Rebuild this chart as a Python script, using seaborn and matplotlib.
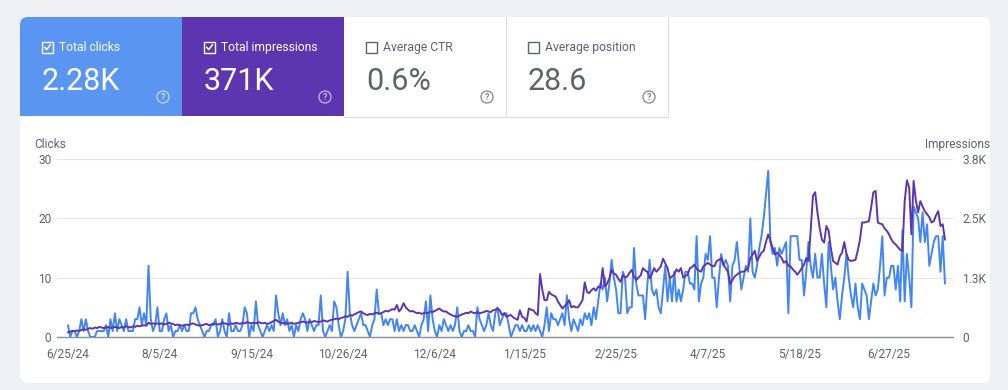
import numpy as np
import pandas as pd
import matplotlib
matplotlib.use("Agg")
import matplotlib.pyplot as plt
import seaborn as sns
from matplotlib.patches import FancyBboxPatch, Rectangle, Circle
from matplotlib.lines import Line2D

# ---------------- data ----------------
start_date = "2024-06-25"

clicks = [
    # 6/25/24 - 8/4/24
    2, 0, 1, 1, 0, 1, 3, 1, 3, 1, 0, 0, 0, 1, 1, 1, 1, 2, 0, 3,
    1, 4, 1, 3, 2, 1, 3, 1, 1, 1, 3, 3, 5, 2, 4, 2, 12, 3, 1, 2, 5,
    # 8/5/24 - 9/14/24
    1, 1, 3, 4, 1, 2, 0, 1, 1, 2, 1, 2, 1, 1, 4, 4, 5, 3, 2, 1,
    0, 1, 1, 2, 2, 3, 0, 1, 3, 1, 0, 4, 1, 1, 2, 1, 1, 2, 5, 4, 0,
    # 9/15/24 - 10/25/24
    2, 1, 6, 2, 1, 0, 1, 2, 1, 2, 1, 7, 4, 2, 4, 2, 3, 1, 2, 0,
    2, 1, 3, 4, 3, 1, 3, 2, 1, 2, 2, 7, 1, 0, 1, 2, 1, 6, 5, 2, 0,
    # 10/26/24 - 12/5/24
    1, 3, 11, 4, 2, 1, 2, 3, 4, 2, 2, 1, 0, 2, 3, 8, 4, 4, 2, 3,
    2, 3, 3, 1, 3, 1, 2, 1, 2, 2, 1, 1, 2, 1, 0, 2, 3, 6, 1, 7, 3,
    # 12/6/24 - 1/14/25
    1, 0, 2, 1, 3, 2, 1, 2, 1, 2, 5, 1, 0, 1, 1, 2, 1, 1, 0, 5,
    3, 2, 1, 2, 4, 2, 1, 4, 5, 2, 3, 4, 4, 2, 0, 1, 2, 2, 1, 2,
    # 1/15/25 - 2/24/25
    1, 1, 2, 1, 2, 1, 2, 1, 0, 2, 5, 1, 4, 3, 3, 2, 3, 4, 2, 7,
    3, 1, 3, 2, 1, 3, 2, 4, 3, 4, 2, 5, 3, 6, 9, 8, 10, 6, 9, 13, 10,
    # 2/25/25 - 4/6/25
    8, 4, 4, 11, 10, 4, 5, 5, 15, 9, 7, 7, 7, 3, 9, 13, 8, 7, 8, 5,
    4, 8, 12, 6, 10, 6, 11, 6, 8, 6, 8, 11, 11, 9, 9, 8, 17, 6, 9, 10, 14,
    # 4/7/25 - 5/17/25
    13, 17, 10, 10, 5, 10, 14, 12, 13, 12, 6, 12, 13, 16, 12, 8, 10, 12, 11, 20,
    11, 10, 12, 15, 17, 20, 24, 28, 16, 14, 15, 12, 15, 14, 15, 16, 4, 17, 17, 17, 17,
    # 5/18/25 - 6/26/25
    13, 13, 7, 11, 16, 12, 10, 14, 10, 10, 14, 9, 5, 16, 12, 8, 10, 6, 3, 7,
    10, 14, 10, 7, 5, 9, 5, 3, 9, 8, 7, 3, 6, 9, 7, 8, 12, 17, 7, 10,
    # 6/27/25 - 7/22/25
    10, 12, 12, 8, 12, 6, 18, 6, 14, 10, 5, 22, 21, 20, 16, 21, 16, 19, 12, 14,
    16, 17, 17, 11, 17, 9,
]

impressions = [
    # 6/25/24 - 8/4/24
    101, 114, 127, 127, 139, 127, 152, 165, 152, 177, 190, 177, 203, 190, 215, 203, 190, 203, 215, 190,
    203, 215, 203, 190, 215, 203, 228, 215, 203, 228, 215, 241, 228, 241, 253, 241, 304, 279, 291, 279, 291,
    # 8/5/24 - 9/14/24
    279, 291, 266, 279, 304, 291, 279, 253, 266, 253, 241, 253, 266, 253, 279, 291, 266, 253, 241, 253,
    266, 279, 253, 266, 291, 279, 266, 279, 304, 291, 279, 266, 291, 279, 304, 291, 279, 304, 291, 317, 304,
    # 9/15/24 - 10/25/24
    291, 304, 291, 317, 304, 291, 304, 279, 291, 317, 342, 367, 329, 304, 291, 304, 279, 291, 304, 279,
    291, 304, 317, 329, 317, 304, 329, 317, 342, 329, 317, 329, 355, 342, 329, 355, 367, 380, 393, 380, 405,
    # 10/26/24 - 12/5/24
    418, 443, 431, 469, 456, 481, 507, 532, 545, 507, 481, 469, 494, 481, 507, 519, 494, 507, 532, 557,
    545, 570, 595, 583, 684, 545, 608, 722, 633, 583, 545, 557, 532, 507, 519, 494, 507, 519, 507, 545, 532,
    # 12/6/24 - 1/14/25
    557, 583, 608, 570, 545, 545, 507, 481, 456, 443, 431, 456, 481, 494, 519, 507, 545, 519, 507, 532,
    507, 519, 532, 557, 545, 532, 570, 583, 608, 570, 469, 507, 431, 456, 469, 418, 393, 367, 570, 431,
    # 1/15/25 - 2/24/25
    405, 329, 608, 583, 570, 507, 469, 1343, 1013, 785, 785, 963, 912, 887, 861, 760, 684, 608, 659, 709,
    785, 633, 659, 633, 633, 709, 785, 1165, 963, 937, 1001, 1039, 988, 1077, 1051, 1469, 1077, 1140, 1254, 1431, 1355,
    # 2/25/25 - 4/6/25
    1330, 1242, 1178, 1318, 1267, 1292, 1368, 1432, 1292, 1216, 1267, 1318, 1470, 1419, 1394, 1254, 1343, 1470, 1394, 1444,
    1508, 1672, 1571, 1470, 1254, 1292, 1330, 1444, 1394, 1470, 1267, 1305, 1330, 1470, 1495, 1546, 1457, 1419, 1394, 1508, 1546,
    # 4/7/25 - 5/17/25
    1584, 1546, 1520, 1508, 1622, 1647, 1685, 1546, 1470, 1394, 1128, 1216, 1292, 1330, 1368, 1394, 1394, 1432, 1470, 1685,
    1761, 1837, 1622, 1710, 1799, 1837, 2027, 2192, 2052, 1900, 1761, 1799, 1748, 1685, 1584, 1622, 1520, 1508, 1444, 1394, 1330,
    # 5/18/25 - 6/26/25
    1394, 1470, 1546, 1685, 1622, 2280, 3015, 3091, 2660, 2331, 2078, 2014, 2369, 2268, 1900, 1622, 1584, 1546, 1723, 1799,
    2027, 1774, 1647, 1622, 1634, 1647, 1837, 2078, 2445, 2445, 2458, 2471, 2762, 3091, 3117, 2445, 2420, 2407, 2318, 2268,
    # 6/27/25 - 7/22/25
    2192, 2090, 2014, 1976, 1913, 1862, 1837, 2901, 3345, 3193, 2192, 3332, 2914, 2660, 2901, 2787, 2686, 2622, 2559, 2445,
    2471, 2597, 2686, 2369, 2407, 2078,
]

tick_labels = ["6/25/24", "8/5/24", "9/15/24", "10/26/24", "12/6/24",
               "1/15/25", "2/25/25", "4/7/25", "5/18/25", "6/27/25"]
left_ticks = [0, 10, 20, 30]
right_max = 3800
right_tick_labels = ["0", "1.3K", "2.5K", "3.8K"]

tile_labels = ["Total clicks", "Total impressions", "Average CTR", "Average position"]
tile_values = ["2.28K", "371K", "0.6%", "28.6"]
tile_checked = [True, True, False, False]

# ---------------- style ----------------
sns.set_theme(style="white")
plt.rcParams["font.family"] = ["Roboto", "DejaVu Sans"]

BLUE_TILE = "#5b95f2"
PURPLE = "#5e35b1"
BLUE_LINE = "#4285f4"
GREY = "#5f6368"
BORDER = "#dadce0"

W, H = 1008, 390
fig = plt.figure(figsize=(W / 100, H / 100), dpi=100)
fig.patch.set_facecolor("#eef0f4")
T = fig.dpi_scale_trans


def P(x, y):
    return (x / 100.0, (H - y) / 100.0)


def rect(x0, y0, x1, y1, **kw):
    r = Rectangle(P(x0, y1), (x1 - x0) / 100.0, (y1 - y0) / 100.0, transform=T, **kw)
    fig.add_artist(r)
    return r


def line(xs, ys, **kw):
    l = Line2D([x / 100.0 for x in xs], [(H - y) / 100.0 for y in ys], transform=T, **kw)
    fig.add_artist(l)
    return l


# card
card = FancyBboxPatch(P(20, 383), 9.70, 3.66, boxstyle="round,pad=0,rounding_size=0.08",
                      transform=T, fc="white", ec="none", zorder=-10)
fig.add_artist(card)

# tiles
tile_x = [20, 182, 344, 506]
tile_w = 162
bt = FancyBboxPatch(P(20, 116), 1.62, 0.99, boxstyle="round,pad=0,rounding_size=0.08",
                    transform=T, fc=BLUE_TILE, ec="none", zorder=-9)
fig.add_artist(bt)
rect(28, 17, 182, 116, fc=BLUE_TILE, ec="none", zorder=-9)
rect(20, 25, 182, 116, fc=BLUE_TILE, ec="none", zorder=-9)
rect(182, 17, 344, 116, fc=PURPLE, ec="none", zorder=-9)
line([506, 506], [17, 116], color=BORDER, lw=0.8)
line([668, 668], [17, 116], color=BORDER, lw=0.8)
line([344, 668], [116.5, 116.5], color=BORDER, lw=0.8)

for i, (lab, val, chk) in enumerate(zip(tile_labels, tile_values, tile_checked)):
    x0 = tile_x[i]
    bx = x0 + 22
    fg = "white" if chk else GREY
    rect(bx, 41.5, bx + 11, 52.5, fc="none", ec=fg, lw=1.0)
    if chk:
        line([bx + 2.5, bx + 4.7, bx + 8.6], [47.2, 49.6, 44.6], color="white", lw=1.1)
    fig.text((bx + 17) / W, 1 - 51 / H, lab, fontsize=8.7, color=fg, va="baseline", ha="left")
    fig.text((bx) / W, 1 - 89.5 / H, val, fontsize=22, color=fg, va="baseline", ha="left")
    cx, cy = x0 + 143, 97
    icol = (1, 1, 1, 0.65) if chk else "#80868b"
    c = Circle(P(cx, cy), 0.06, transform=T, fc="none", ec=icol, lw=0.9)
    fig.add_artist(c)
    fig.text(cx / W, 1 - (cy + 0.3) / H, "?", fontsize=6.5, color=icol, ha="center", va="center",
             fontweight="bold")

# ---------------- chart ----------------
df = pd.DataFrame({
    "date": pd.date_range(start_date, periods=len(clicks), freq="D"),
    "clicks": clicks,
    "impressions": impressions,
})

ax = fig.add_axes([57 / W, 53 / H, 896 / W, 178 / H])
sns.lineplot(data=df, x="date", y="clicks", ax=ax, color=BLUE_LINE, linewidth=1.4)
ax2 = ax.twinx()
sns.lineplot(data=df, x="date", y="impressions", ax=ax2, color=PURPLE, linewidth=1.4)

ax.set_facecolor("none")
ax.set_ylim(0, 30)
ax.set_yticks(left_ticks)
ax.grid(axis="y", color="#e6e6e6", lw=0.8)
ax.grid(axis="x", visible=False)
ax.set_axisbelow(True)
for s in ["top", "left", "right"]:
    ax.spines[s].set_visible(False)
ax.spines["bottom"].set_color("#8a8f94")
ax.spines["bottom"].set_linewidth(1.0)

tick_dates = pd.to_datetime(tick_labels, format="%m/%d/%y")
ax.set_xticks(tick_dates)
ax.set_xticklabels(tick_labels)
ax.set_xlim(df["date"].iloc[0] - pd.Timedelta(days=4.9), df["date"].iloc[-1] + pd.Timedelta(days=3.6))
ax.tick_params(axis="x", length=0, labelsize=8.6, colors=GREY, pad=8)
ax.tick_params(axis="y", length=0, labelsize=8.6, colors=GREY, pad=4)
ax.set_xlabel("")
ax.set_ylabel("")

ax2.set_ylim(0, right_max)
ax2.set_yticks(np.linspace(0, right_max, len(right_tick_labels)))
ax2.set_yticklabels(right_tick_labels)
ax2.tick_params(axis="y", length=0, labelsize=8.6, colors=GREY, pad=6.5)
ax2.grid(False)
for s in ax2.spines.values():
    s.set_visible(False)
ax2.set_ylabel("")

fig.text(34 / W, 1 - 148 / H, "Clicks", fontsize=8.6, color=GREY, ha="left", va="baseline")
fig.text(990 / W, 1 - 148 / H, "Impressions", fontsize=8.6, color=GREY, ha="right", va="baseline")

fig.savefig("out.png", dpi=100, facecolor=fig.get_facecolor())
